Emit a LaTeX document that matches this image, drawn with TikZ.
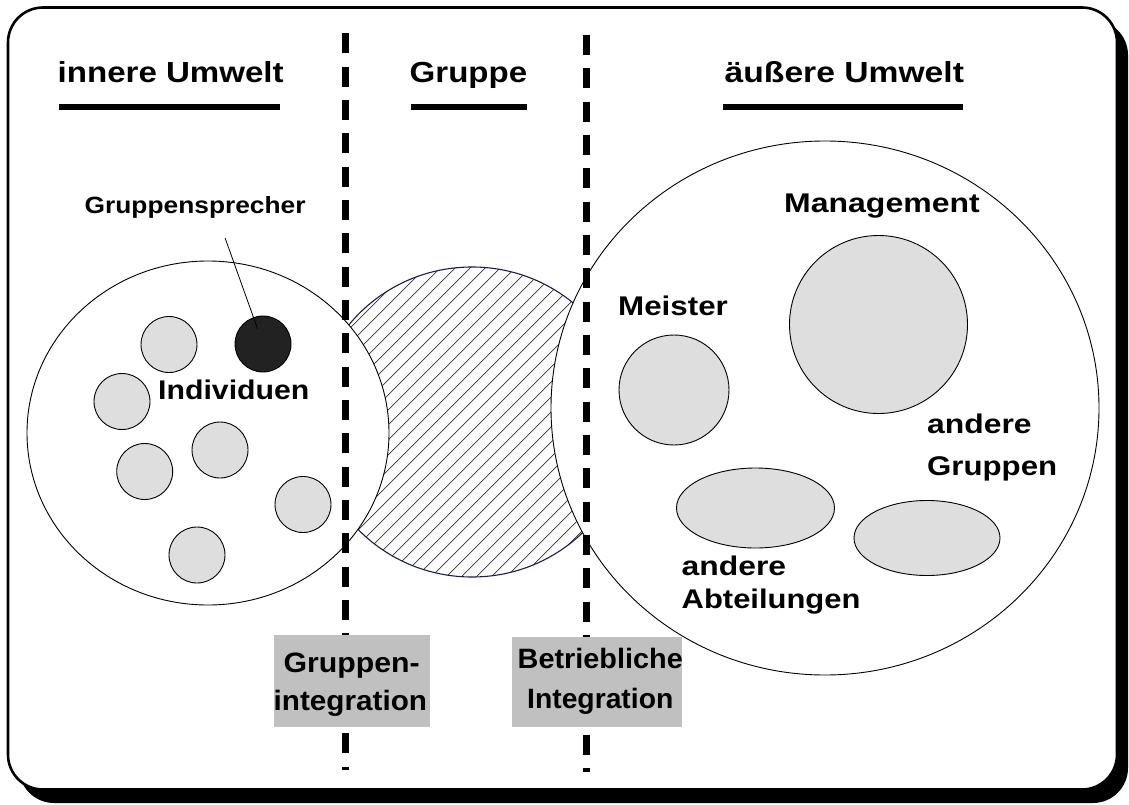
\documentclass[tikz,border=0pt]{standalone}
\usepackage{fontspec}
\setmainfont{Liberation Sans}
\usetikzlibrary{calc,shapes.geometric}
% size, horizontal stretch of the glyphs
\newcommand\lf[2]{\fontsize{#1}{#1}\selectfont\bfseries\addfontfeatures{FakeStretch=#2}}
\definecolor{indivgray}{HTML}{DEDEDE}
\definecolor{boxgray}{HTML}{C0C0C0}
\definecolor{navyline}{HTML}{1C1C50}
\definecolor{speaker}{HTML}{222222}
\begin{document}
\begin{tikzpicture}[x=1pt,y=-1pt,
  lbl/.style={inner sep=0pt, anchor=base west},
  indiv/.style={circle, draw=black, line width=0.9pt, fill=indivgray, minimum size=56pt, inner sep=0pt},
  blob/.style={draw=black, line width=0.9pt, fill=indivgray, inner sep=0pt},
  zone/.style={draw=black, line width=0.9pt, fill=white},
  hatch/.style={line width=0.7pt, draw=black!80},
  sepline/.style={line width=7pt, dash pattern=on 20pt off 13.33pt},
  rule/.style={line width=6pt},
  labelbox/.style={fill=boxgray, inner sep=0pt}]

% canvas, shadow and frame
\fill[white] (0,0) rectangle (1129,805);
\useasboundingbox (0,0) rectangle (1129,805);
\fill[black, rounded corners=35pt] (19,20) rectangle (1128,803);
\draw[line width=2.6pt, fill=white, rounded corners=35pt] (8,7.5) rectangle (1117,789.5);

% the group: hatched circle between the two environments
\begin{scope}
  \clip (472,422) ellipse [x radius=158pt, y radius=155pt];
  \foreach \c in {558,573,...,1248}
    \draw[hatch] ({\c-600},600) -- ({\c-250},250);
\end{scope}
\draw[navyline, line width=1.1pt] (472,422) ellipse [x radius=158pt, y radius=155pt];

% inner and outer environment
\draw[zone] (208,433) ellipse [x radius=181pt, y radius=172pt];
\draw[zone] (825,408) ellipse [x radius=274pt, y radius=267pt];

% individuals
\node[indiv] (i1) at (169,344.5) {};
\node[indiv, fill=speaker] (spk) at (263,344) {};
\node[indiv] (i3) at (122,401.5) {};
\node[indiv] (i4) at (220,450) {};
\node[indiv] (i5) at (144.7,471.5) {};
\node[indiv] (i6) at (303,504.5) {};
\node[indiv] (i7) at (197,555) {};

% outer environment members
\node[blob, circle, minimum size=178pt] (mgmt) at (878.5,324.5) {};
\node[blob, circle, minimum size=110pt] (meis) at (674,390) {};
\node[blob, ellipse, minimum width=158pt, minimum height=80pt] (abt) at (755.5,508) {};
\node[blob, ellipse, minimum width=146pt, minimum height=75pt] (grp) at (927,538) {};

% headings
\node[lbl, font=\lf{29}{1.14}] (hin) at (57.5,83) {innere Umwelt};
\node[lbl, font=\lf{29}{1.14}] (hgr) at (409.5,83) {Gruppe};
\node[lbl, font=\lf{29}{1.16}] (hout) at (724.5,83) {äußere Umwelt};
\draw[rule] (59,107) -- (280,107);
\draw[rule] (411,107) -- (527,107);
\draw[rule] (723,107) -- (963,107);

% labels
\node[lbl, font=\lf{23.5}{1.12}] (gs) at (84.5,214) {Gruppensprecher};
\node[lbl, font=\lf{27}{1.12}] (ind) at (158,399) {Individuen};
\node[lbl, font=\lf{27}{1.185}] (lmgmt) at (784,212.5) {Management};
\node[lbl, font=\lf{27}{1.16}] (lmeis) at (618,315.5) {Meister};
\node[lbl, font=\lf{27}{1.18}] (lgrp1) at (927,433) {andere};
\node[lbl, font=\lf{27}{1.155}] (lgrp2) at (927,475) {Gruppen};
\node[lbl, font=\lf{27}{1.18}] (labt1) at (681.5,575) {andere};
\node[lbl, font=\lf{27}{1.146}] (labt2) at (681.5,608) {Abteilungen};

\draw[line width=0.8pt, shorten >=16pt] ($(gs.south)+(30,19)$) -- (spk.center);

% boundaries
\coordinate (sepAtop) at (345.5,33.5);
\coordinate (sepAbot) at (345.5,770);
\coordinate (sepBtop) at (586.5,35);
\coordinate (sepBbot) at (586.5,772);
\draw[sepline] (sepAtop) -- (sepAbot);
\draw[sepline] (sepBtop) -- (sepBbot);

% integration labels
\node[labelbox, minimum width=156pt, minimum height=92pt] (gibox) at (352,681) {};
\node[labelbox, minimum width=170pt, minimum height=90pt] (bibox) at (597,682) {};
\node[lbl, font=\lf{28}{1.08}] (gi1) at (283.5,672) {Gruppen-};
\node[lbl, font=\lf{28}{1.06}] (gi2) at (273.5,710) {integration};
\node[lbl, font=\lf{28}{1.03}] (bi1) at (517.5,668) {Betriebliche};
\node[lbl, font=\lf{28}{1.01}] (bi2) at (527,708.5) {Integration};
\end{tikzpicture}
\end{document}
